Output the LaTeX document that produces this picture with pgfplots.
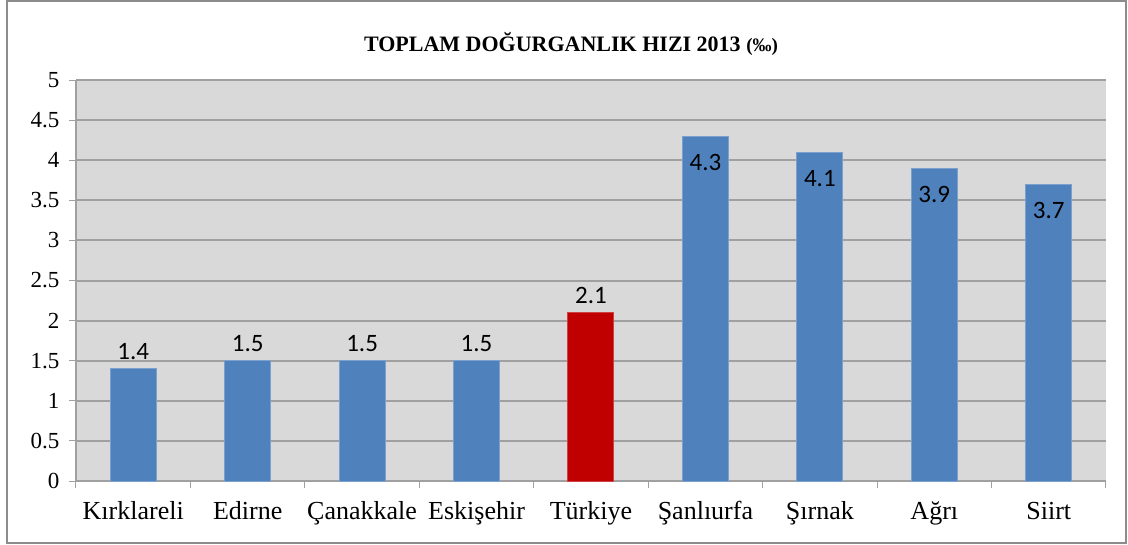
\documentclass[border=0pt]{standalone}
\usepackage{fontspec}
\setmainfont{Liberation Serif}
\newfontfamily\lab{Carlito}
\usepackage{pgfplots}
\pgfplotsset{compat=1.18}
\definecolor{barblue}{HTML}{4F81BD}
\definecolor{barred}{HTML}{C00000}
\definecolor{plotbg}{HTML}{D9D9D9}
\definecolor{gridc}{HTML}{A0A0A0}
\definecolor{framec}{HTML}{8C8C8C}
\begin{document}
\begin{tikzpicture}
\path (-76pt,-63pt) rectangle (1052pt,481pt);
\begin{axis}[
  scale only axis, width=1030pt, height=401pt,
  xmin=-0.5, xmax=8.5, ymin=0, ymax=5,
  axis background/.style={fill=plotbg},
  axis x line*=bottom, axis y line*=left,
  axis line style={draw=gridc, line width=2pt, -},
  /pgf/number format/assume math mode=true,
  ytick={0,0.5,1,1.5,2,2.5,3,3.5,4,4.5,5},
  yticklabels={0,0.5,1,1.5,2,2.5,3,3.5,4,4.5,5},
  xtick={0,1,2,3,4,5,6,7,8},
  xticklabels={Kırklareli,Edirne,Çanakkale,Eskişehir,Türkiye,Şanlıurfa,Şırnak,Ağrı,Siirt},
  minor xtick={-0.5,0.5,1.5,2.5,3.5,4.5,5.5,6.5,7.5,8.5},
  tick align=outside,
  major tick length=7pt, minor tick length=7pt,
  tick style={draw=gridc, line width=1pt},
  major x tick style={draw=none},
  ymajorgrids,
  major y grid style={draw=gridc, line width=2pt},
  every y tick label/.append style={font=\fontsize{23}{27}\selectfont, anchor=east, xshift=-6pt},
  xticklabel style={font=\fontsize{26}{30}\selectfont, anchor=base, yshift=-31pt},
  nodes near coords={\pgfmathprintnumber{\pgfplotspointmeta}},
  /pgf/number format/fixed, /pgf/number format/precision=1,
]
\addplot[ybar, bar width=46pt, bar shift=0pt, fill=barblue, draw=barblue!75!white, line width=1pt,
  nodes near coords, nodes near coords style={font=\lab\fontsize{25}{30}\selectfont, text=black, anchor=south, yshift=5pt}]
  coordinates {(0,1.4) (1,1.5) (2,1.5) (3,1.5)};
\addplot[ybar, bar width=46pt, bar shift=0pt, fill=barred, draw=barred!75!white, line width=1pt,
  nodes near coords, nodes near coords style={font=\lab\fontsize{25}{30}\selectfont, text=black, anchor=south, yshift=5pt}]
  coordinates {(4,2.1)};
\addplot[ybar, bar width=46pt, bar shift=0pt, fill=barblue, draw=barblue!75!white, line width=1pt,
  nodes near coords, nodes near coords style={font=\lab\fontsize{25}{30}\selectfont, text=black, anchor=north, yshift=-14pt}]
  coordinates {(5,4.3) (6,4.1) (7,3.9) (8,3.7)};
\end{axis}
\draw[framec, line width=2pt] (-69pt,-62pt) rectangle (1050pt,480pt);
\node[font=\bfseries\fontsize{22}{26}\selectfont, anchor=base] at (495pt,429pt)
  {TOPLAM DOĞURGANLIK HIZI 2013 {\fontsize{19}{22}\selectfont(‰)}};
\end{tikzpicture}
\end{document}
